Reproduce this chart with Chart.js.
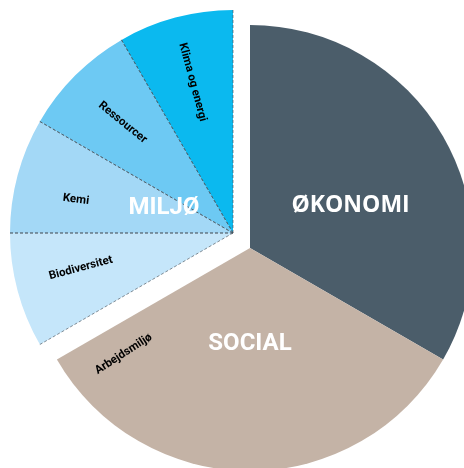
<!DOCTYPE html>
<html>
<head>
<meta charset="utf-8">
<script src="https://cdn.jsdelivr.net/npm/chart.js@4"></script>
<style>
    html, body { margin: 0; padding: 0; background: #fff; }
    #wrap { position: relative; width: 464px; height: 468px; }
</style>
</head>
<body>
<div id="wrap"><canvas id="chart"></canvas></div>
<script>
// 数据：每个扇区 (角度份额)
const categories = ['ØKONOMI', 'SOCIAL', 'Biodiversitet', 'Kemi', 'Ressourcer', 'Klima og energi'];
const shares = [120, 120, 30, 30, 30, 30];
const groups = ['ØKONOMI', 'SOCIAL', 'MILJØ', 'MILJØ', 'MILJØ', 'MILJØ'];
const groupNames = ['ØKONOMI', 'SOCIAL', 'MILJØ'];
const extraLabels = ['Arbejdsmiljø'];   // 属于 SOCIAL 的子标签
const extraLabelGroups = ['SOCIAL'];

const sliceColors = ['#4B5D6A', '#C4B3A6', '#C5E6FA', '#A3D8F6', '#6DC9F3', '#0BB9EF'];

// 标签摆放 (角度: 自顶部顺时针, 半径比例, 文字旋转)
const placement = {
    'ØKONOMI':        { angle: 67,  r: 0.49, rot: 0 },
    'SOCIAL':         { angle: 180, r: 0.43, rot: 0 },
    'MILJØ':          { angle: 290, r: 0.33, rot: 0 },
    'Arbejdsmiljø':   { angle: 230, r: 0.74, rot: -33 },
    'Biodiversitet':  { angle: 257, r: 0.70, rot: -15 },
    'Kemi':           { angle: 282, r: 0.72, rot: 7 },
    'Ressourcer':     { angle: 315, r: 0.70, rot: 39 },
    'Klima og energi':{ angle: 345, r: 0.70, rot: 75 }
};

// MILJØ 整体外移
const explodeGroup = 'MILJØ';
const explodeShift = { x: -17, y: -15 };

/**
 * 把 MILJØ 的所有扇区整体平移
 */
const explodePlugin = {
    id: 'explodeGroup',
    afterDatasetsUpdate(chart) {
        const arcs = chart.getDatasetMeta(0).data;
        arcs.forEach(function(arc, i) {
            if (groups[i] === explodeGroup) {
                arc.x += explodeShift.x;
                arc.y += explodeShift.y;
            }
        });
    }
};

/**
 * 虚线分隔 + 文字标签
 */
const labelPlugin = {
    id: 'sliceLabels',
    afterDatasetsDraw(chart) {
        const ctx = chart.ctx;
        const arcs = chart.getDatasetMeta(0).data;

        // MILJØ 内部虚线
        ctx.save();
        ctx.strokeStyle = 'rgba(70, 80, 90, 0.8)';
        ctx.lineWidth = 0.8;
        ctx.setLineDash([3, 2]);
        arcs.forEach(function(arc, i) {
            if (groups[i] !== explodeGroup) return;
            [arc.startAngle, arc.endAngle].forEach(function(a) {
                ctx.beginPath();
                ctx.moveTo(arc.x, arc.y);
                ctx.lineTo(arc.x + arc.outerRadius * Math.cos(a), arc.y + arc.outerRadius * Math.sin(a));
                ctx.stroke();
            });
        });
        ctx.restore();

        function anchorOf(group) {
            return arcs[groups.indexOf(group)];
        }

        function drawText(text, group, font, color) {
            const arc = anchorOf(group);
            const p = placement[text];
            const t = p.angle * Math.PI / 180;
            const x = arc.x + p.r * arc.outerRadius * Math.sin(t);
            const y = arc.y - p.r * arc.outerRadius * Math.cos(t);
            ctx.save();
            ctx.translate(x, y);
            ctx.rotate(p.rot * Math.PI / 180);
            ctx.font = font;
            ctx.fillStyle = color;
            ctx.textAlign = 'center';
            ctx.textBaseline = 'middle';
            ctx.fillText(text, 0, 0);
            ctx.restore();
        }

        // 子标签
        categories.forEach(function(name, i) {
            if (groups[i] === name) return;
            drawText(name, groups[i], 'bold 11.5px Roboto', '#000');
        });
        extraLabels.forEach(function(name, i) {
            drawText(name, extraLabelGroups[i], 'bold 11.5px Roboto', '#000');
        });

        // 主标签
        groupNames.forEach(function(name) {
            const font = name === 'ØKONOMI' ? 'bold 23px "Open Sans"' : 'bold 24px Roboto';
            drawText(name, name, font, '#fff');
        });
    }
};

new Chart(document.getElementById('chart'), {
    type: 'pie',
    data: {
        labels: categories,
        datasets: [{
            data: shares,
            backgroundColor: sliceColors,
            borderWidth: 0,
            clip: false
        }]
    },
    options: {
        responsive: true,
        maintainAspectRatio: false,
        animation: false,
        radius: 223,
        layout: {
            padding: { left: 36, top: 28, right: 0, bottom: 0 }
        },
        plugins: {
            legend: { display: false },
            tooltip: { enabled: false }
        }
    },
    plugins: [explodePlugin, labelPlugin]
});
</script>
</body>
</html>
